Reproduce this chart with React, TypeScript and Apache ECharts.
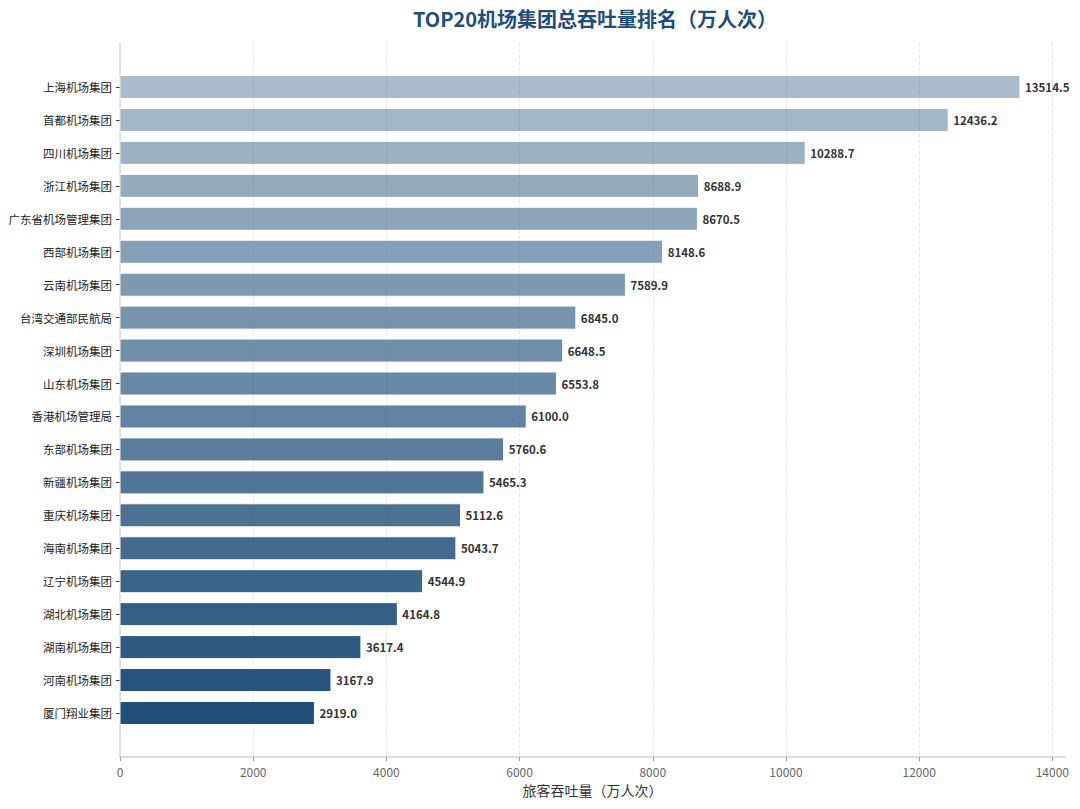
import React, { useEffect, useRef } from "react";
import * as echarts from "echarts";

const categories = [
  "上海机场集团", "首都机场集团", "四川机场集团", "浙江机场集团", "广东省机场管理集团",
  "西部机场集团", "云南机场集团", "台湾交通部民航局", "深圳机场集团", "山东机场集团",
  "香港机场管理局", "东部机场集团", "新疆机场集团", "重庆机场集团", "海南机场集团",
  "辽宁机场集团", "湖北机场集团", "湖南机场集团", "河南机场集团", "厦门翔业集团",
];
const values = [
  13514.5, 12436.2, 10288.7, 8688.9, 8670.5,
  8148.6, 7589.9, 6845.0, 6648.5, 6553.8,
  6100.0, 5760.6, 5465.3, 5112.6, 5043.7,
  4544.9, 4164.8, 3617.4, 3167.9, 2919.0,
];
const xTicks = [0, 2000, 4000, 6000, 8000, 10000, 12000, 14000];

const FONT = "'Noto Sans CJK SC', 'Noto Sans', sans-serif";

export default function App() {
  const ref = useRef<HTMLDivElement>(null);
  useEffect(() => {
    document.body.style.margin = "0";
    const chart = echarts.init(ref.current!, null, { renderer: "svg" });
    const n = categories.length;
    const yIdx = categories.map((_, i) => i);
    chart.setOption({
      animation: false,
      backgroundColor: "#ffffff",
      title: {
        text: "TOP20机场集团总吞吐量排名（万人次）",
        left: 590,
        top: 3,
        textAlign: "center",
        textStyle: { fontFamily: FONT, fontSize: 20, fontWeight: "bold", color: "#1f4e79" },
      },
      grid: { left: 120, right: 15, top: 43, bottom: 52, containLabel: false },
      xAxis: {
        type: "value",
        min: 0,
        max: 14190,
        name: "旅客吞吐量（万人次）",
        nameLocation: "middle",
        nameGap: 26,
        nameTextStyle: { fontFamily: FONT, fontSize: 14, color: "#333" },
        axisLine: { show: true, onZero: false, lineStyle: { color: "#d0d0d0", width: 1.5 } },
        axisTick: { show: true, length: 4, lineStyle: { color: "#999" }, customValues: xTicks },
        axisLabel: {
          fontFamily: FONT,
          fontSize: 12,
          color: "#666",
          margin: 8,
          customValues: xTicks,
          formatter: (v: number) => String(Math.round(v)),
        },
        splitLine: { show: true, lineStyle: { color: "#e6e6e6", type: "dashed", width: 1 } },
      },
      yAxis: {
        type: "value",
        inverse: true,
        min: -1.335,
        max: 20.335,
        axisLine: { show: true, onZero: false, lineStyle: { color: "#d8d8d8", width: 1.5 } },
        axisTick: { show: true, length: 4, lineStyle: { color: "#333" }, customValues: yIdx },
        axisLabel: {
          fontFamily: FONT,
          fontSize: 11.5,
          color: "#222",
          margin: 8,
          customValues: yIdx,
          formatter: (v: number) => categories[Math.round(v)] ?? "",
        },
        splitLine: { show: false },
      },
      series: [
        {
          type: "custom",
          data: values.map((v, i) => [v, i]),
          encode: { x: 0, y: 1 },
          renderItem: (params: any, api: any) => {
            const v = api.value(0);
            const idx = api.value(1);
            const start = api.coord([0, idx]);
            const end = api.coord([v, idx]);
            const h = api.size([0, 0.7])[1];
            const alpha = 0.38 + 0.62 * (idx / (n - 1));
            return {
              type: "group",
              children: [
                {
                  type: "rect",
                  shape: { x: start[0], y: start[1] - h / 2, width: end[0] - start[0], height: h },
                  style: { fill: `rgba(31,78,121,${alpha})`, stroke: "#ffffff", lineWidth: 1 },
                },
                {
                  type: "text",
                  style: {
                    text: v.toFixed(1),
                    x: end[0] + 5,
                    y: end[1],
                    align: "left",
                    verticalAlign: "middle",
                    fontFamily: FONT,
                    fontSize: 11.5,
                    fontWeight: "bold",
                    fill: "#333",
                  },
                },
              ],
            };
          },
        },
      ],
    });
    return () => chart.dispose();
  }, []);
  return <div ref={ref} style={{ width: 1080, height: 809 }} />;
}
